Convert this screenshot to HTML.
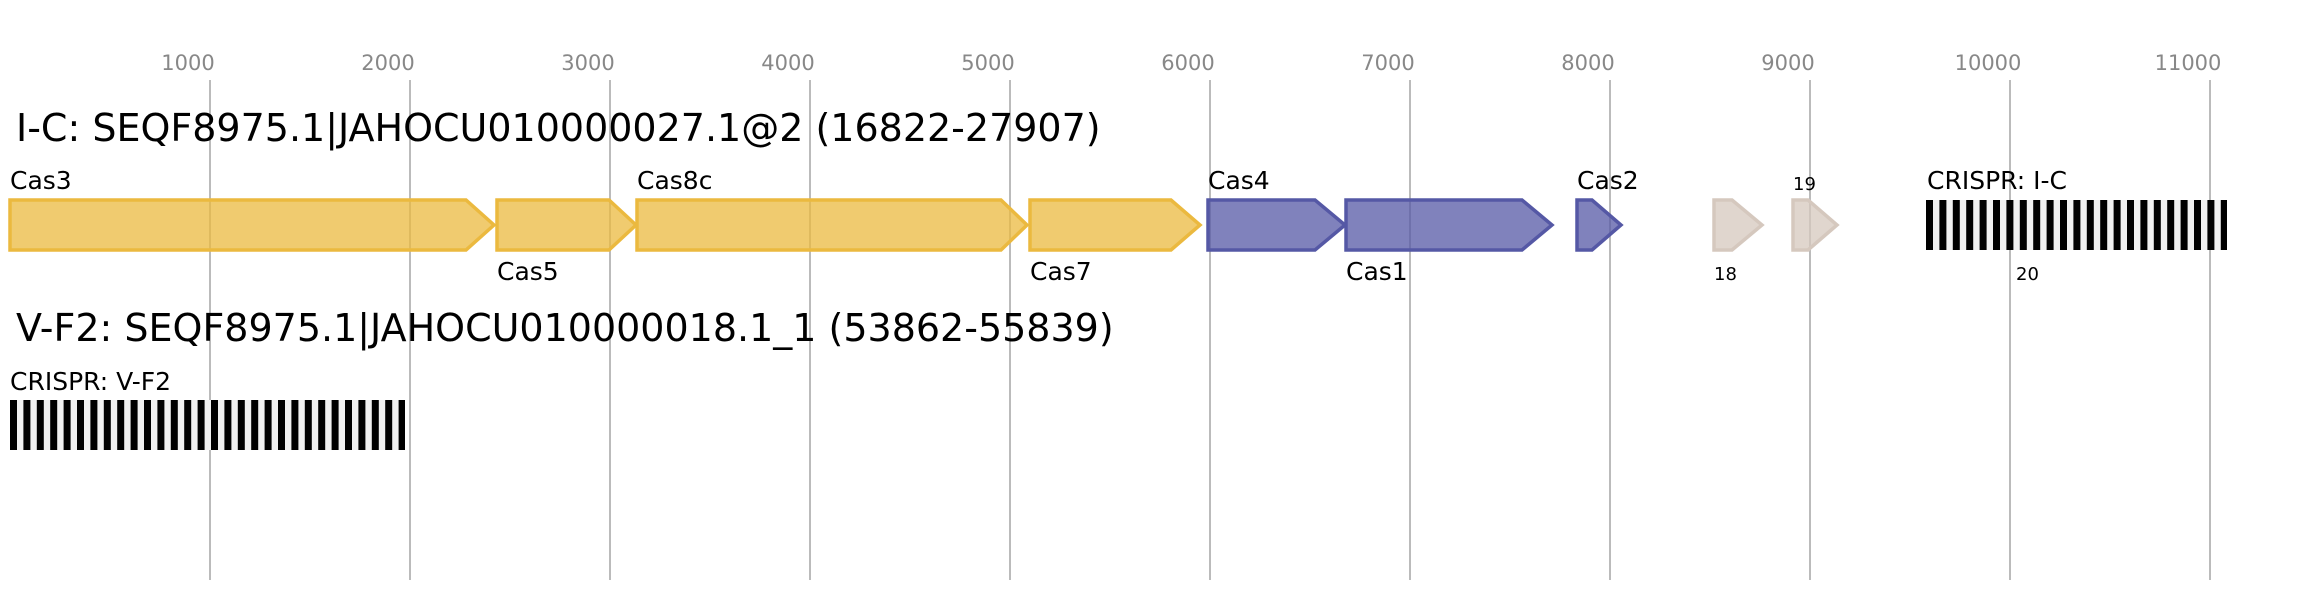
<!DOCTYPE html>
<html><head><meta charset="utf-8"><style>
html,body{margin:0;padding:0;background:#fff;}
svg{display:block;}
text{font-family:"DejaVu Sans","Liberation Sans",sans-serif;}
</style></head><body>
<svg width="2317" height="600" viewBox="0 0 2317 600" xmlns="http://www.w3.org/2000/svg">
<g stroke="#bbb" stroke-width="2">
<line x1="210" y1="80" x2="210" y2="580"/><line x1="410" y1="80" x2="410" y2="580"/>
<line x1="610" y1="80" x2="610" y2="580"/><line x1="810" y1="80" x2="810" y2="580"/>
<line x1="1010" y1="80" x2="1010" y2="580"/><line x1="1210" y1="80" x2="1210" y2="580"/>
<line x1="1410" y1="80" x2="1410" y2="580"/><line x1="1610" y1="80" x2="1610" y2="580"/>
<line x1="1810" y1="80" x2="1810" y2="580"/><line x1="2010" y1="80" x2="2010" y2="580"/>
<line x1="2210" y1="80" x2="2210" y2="580"/>
</g>
<g fill="#888" font-size="21" text-anchor="middle">
<text x="188" y="70">1000</text><text x="388" y="70">2000</text><text x="588" y="70">3000</text>
<text x="788" y="70">4000</text><text x="988" y="70">5000</text><text x="1188" y="70">6000</text>
<text x="1388" y="70">7000</text><text x="1588" y="70">8000</text><text x="1788" y="70">9000</text>
<text x="1988" y="70">10000</text><text x="2188" y="70">11000</text>
</g>
<text x="16" y="141" font-size="38">I-C: SEQF8975.1|JAHOCU010000027.1@2 (16822-27907)</text>
<text x="16" y="341" font-size="38">V-F2: SEQF8975.1|JAHOCU010000018.1_1 (53862-55839)</text>
<g stroke-width="3.5" fill-opacity="0.75">
<g fill="#ebb93f" stroke="#ebb93f">
<polygon points="10,200 466,200 494,225 466,250 10,250"/>
<polygon points="497,200 609,200 636,225 609,250 497,250"/>
<polygon points="637,200 1001,200 1027,225 1001,250 637,250"/>
<polygon points="1030,200 1171,200 1200,225 1171,250 1030,250"/>
</g>
<g fill="#5558a5" stroke="#5558a5">
<polygon points="1208,200 1315,200 1345,225 1315,250 1208,250"/>
<polygon points="1346,200 1522,200 1552,225 1522,250 1346,250"/>
<polygon points="1577,200 1592,200 1621,225 1592,250 1577,250"/>
</g>
<g fill="#d5c8be" stroke="#d5c8be">
<polygon points="1714,200 1732,200 1762,225 1732,250 1714,250"/>
<polygon points="1793,200 1808,200 1837,225 1808,250 1793,250"/>
</g>
</g>
<g font-size="25" fill="#000">
<text x="10" y="189">Cas3</text><text x="497" y="280">Cas5</text>
<text x="637" y="189">Cas8c</text><text x="1030" y="280">Cas7</text>
<text x="1208" y="189">Cas4</text><text x="1346" y="280">Cas1</text>
<text x="1577" y="189">Cas2</text><text x="1927" y="189">CRISPR: I-C</text>
<text x="10" y="390">CRISPR: V-F2</text>
</g>
<g font-size="18" fill="#000">
<text x="1714" y="280">18</text><text x="1793" y="190">19</text><text x="2016" y="280">20</text>
</g>
<rect x="1926" y="200" width="301" height="50" fill="#f0f0f0"/>
<rect x="10" y="400" width="395" height="50" fill="#f0f0f0"/>
<g fill="#000">
<rect x="1926" y="200" width="7" height="50"/><rect x="1939.4" y="200" width="7" height="50"/><rect x="1952.8" y="200" width="7" height="50"/><rect x="1966.2" y="200" width="7" height="50"/><rect x="1979.6" y="200" width="7" height="50"/><rect x="1993" y="200" width="7" height="50"/><rect x="2006.4" y="200" width="7" height="50"/><rect x="2019.8" y="200" width="7" height="50"/><rect x="2033.2" y="200" width="7" height="50"/><rect x="2046.6" y="200" width="7" height="50"/><rect x="2060" y="200" width="7" height="50"/><rect x="2073.4" y="200" width="7" height="50"/><rect x="2086.8" y="200" width="7" height="50"/><rect x="2100.2" y="200" width="7" height="50"/><rect x="2113.6" y="200" width="7" height="50"/><rect x="2127" y="200" width="7" height="50"/><rect x="2140.4" y="200" width="7" height="50"/><rect x="2153.8" y="200" width="7" height="50"/><rect x="2167.2" y="200" width="7" height="50"/><rect x="2180.6" y="200" width="7" height="50"/><rect x="2194" y="200" width="7" height="50"/><rect x="2207.4" y="200" width="7" height="50"/><rect x="2220.8" y="200" width="6.2" height="50"/>
<rect x="10" y="400" width="7" height="50"/><rect x="23.4" y="400" width="7" height="50"/><rect x="36.8" y="400" width="7" height="50"/><rect x="50.2" y="400" width="7" height="50"/><rect x="63.6" y="400" width="7" height="50"/><rect x="77" y="400" width="7" height="50"/><rect x="90.4" y="400" width="7" height="50"/><rect x="103.8" y="400" width="7" height="50"/><rect x="117.2" y="400" width="7" height="50"/><rect x="130.6" y="400" width="7" height="50"/><rect x="144" y="400" width="7" height="50"/><rect x="157.4" y="400" width="7" height="50"/><rect x="170.8" y="400" width="7" height="50"/><rect x="184.2" y="400" width="7" height="50"/><rect x="197.6" y="400" width="7" height="50"/><rect x="211" y="400" width="7" height="50"/><rect x="224.4" y="400" width="7" height="50"/><rect x="237.8" y="400" width="7" height="50"/><rect x="251.2" y="400" width="7" height="50"/><rect x="264.6" y="400" width="7" height="50"/><rect x="278" y="400" width="7" height="50"/><rect x="291.4" y="400" width="7" height="50"/><rect x="304.8" y="400" width="7" height="50"/><rect x="318.2" y="400" width="7" height="50"/><rect x="331.6" y="400" width="7" height="50"/><rect x="345" y="400" width="7" height="50"/><rect x="358.4" y="400" width="7" height="50"/><rect x="371.8" y="400" width="7" height="50"/><rect x="385.2" y="400" width="7" height="50"/><rect x="398.6" y="400" width="6.4" height="50"/>
</g>
</svg>
</body></html>
